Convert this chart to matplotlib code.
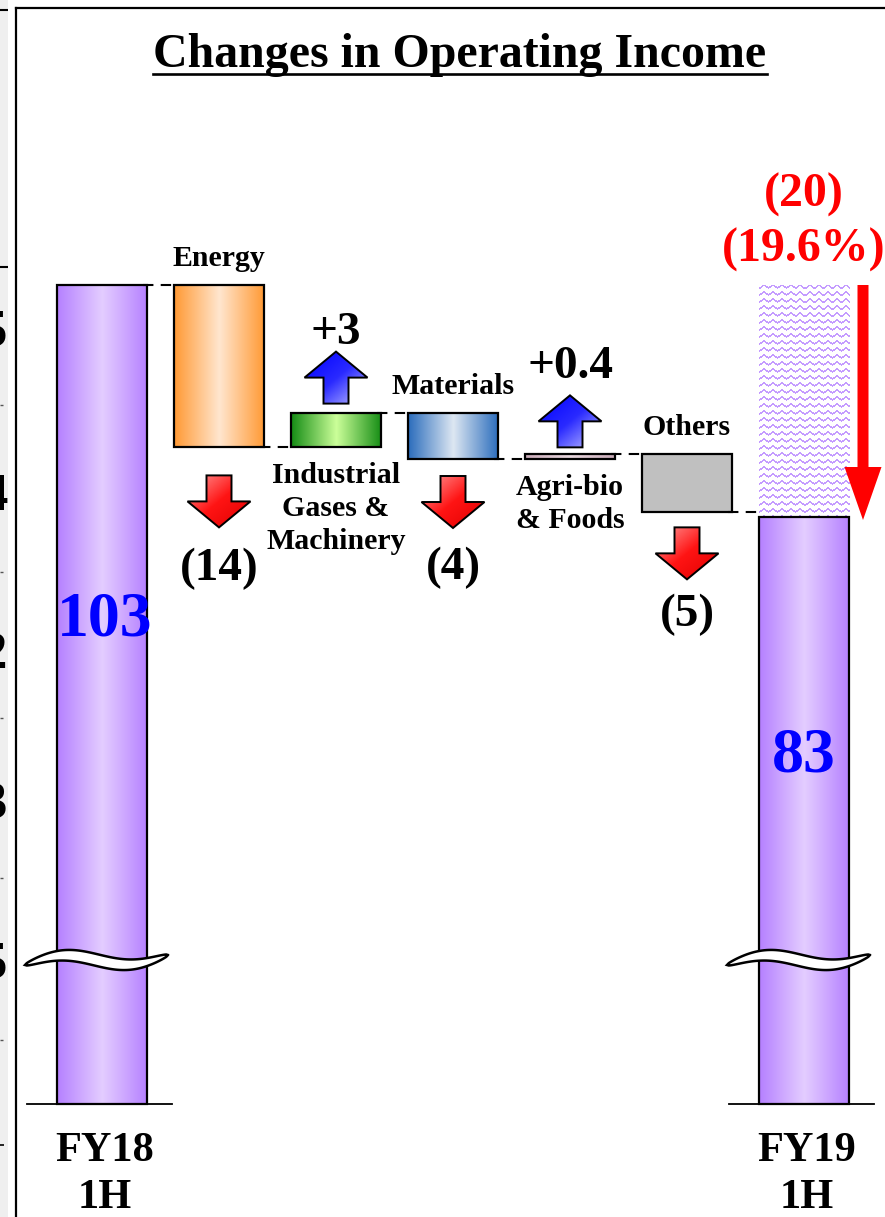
import numpy as np
import matplotlib
matplotlib.use("Agg")
import matplotlib.pyplot as plt
from matplotlib.patches import Polygon
from matplotlib.colors import LinearSegmentedColormap, to_rgb
from matplotlib.lines import Line2D

# ---------------- data ----------------
start_label = "FY18\n1H"
end_label = "FY19\n1H"
start_value = 103
end_value = 83
segments = ["Energy", "Industrial\nGases &\nMachinery", "Materials",
            "Agri-bio\n& Foods", "Others"]
segment_changes = [-14, 3, -4, 0.4, -5]
change_labels = ["(14)", "+3", "(4)", "+0.4", "(5)"]
total_change = -20
total_change_pct = -19.6
title = "Changes in Operating Income"

# ---------------- layout (pixels) ----------------
W_PX, H_PX = 885, 1217
X0_PX, STEP_PX = 102, 117          # centre of first column, column pitch
TOP_PX, UNIT_PX = 285, 11.6        # row of the starting total, pixels per unit
BASE_PX = 1104                      # drawn foot of the (broken) total columns
BREAK_PX = 960                      # row of the axis-break marks
BAR_W = 0.77
arrow_gap_px = [28, 9, 17, 7, 15]
value_gap_px = [20, 8, 19, 17, 14]

segment_colors = [
    ["#ff9933", "#ffe6cf", "#ff9933"],
    ["#148c14", "#ccff99", "#148c14"],
    ["#2a6cbc", "#dde7f2", "#2a6cbc"],
    ["#c9aab8", "#e8d8de", "#c9aab8"],
    None,
]
total_colors = ["#b580ff", "#e4cdff", "#b580ff"]

plt.rcParams['font.family'] = ['Liberation Serif', 'DejaVu Serif']
plt.rcParams['font.weight'] = 'bold'

fig = plt.figure(figsize=(W_PX / 100, H_PX / 100), dpi=100)
fig.patch.set_facecolor("white")
ax = fig.add_axes([0, 0, 1, 1])
y_top = start_value + TOP_PX / UNIT_PX
XLIM = (-X0_PX / STEP_PX, (W_PX - X0_PX) / STEP_PX)
YLIM = (y_top - H_PX / UNIT_PX, y_top)
ax.set_xlim(*XLIM)
ax.set_ylim(*YLIM)
ax.axis('off')


def dx(p):
    return p / STEP_PX


def dy(p):
    return p / UNIT_PX


def row(p):
    """pixel row measured from the top -> data y"""
    return y_top - p / UNIT_PX


def gradient_bar(x, bottom, top, colors, z=2):
    cmap = LinearSegmentedColormap.from_list("g", colors)
    grad = np.linspace(0, 1, 256)[None, :]
    ax.imshow(grad, cmap=cmap, extent=(x - BAR_W / 2, x + BAR_W / 2, bottom, top),
              aspect='auto', interpolation='bilinear', zorder=z)


def outline(x, bottom, top, face='none', z=3):
    ax.bar(x, top - bottom, bottom=bottom, width=BAR_W, color=face,
           edgecolor='black', linewidth=1.6, zorder=z)


def arrow_verts(xc, y_tail, up, length_px=52, head_px=26, shaft_px=25, headw_px=63):
    s = 1 if up else -1
    tip = y_tail + s * dy(length_px)
    neck = tip - s * dy(head_px)
    hw, sw = dx(headw_px) / 2, dx(shaft_px) / 2
    return np.array([[xc - sw, y_tail], [xc - sw, neck], [xc - hw, neck], [xc, tip],
                     [xc + hw, neck], [xc + sw, neck], [xc + sw, y_tail]])


def gradient_arrow(verts, colors, z=4):
    poly = Polygon(verts, closed=True, facecolor='none', edgecolor='black',
                   linewidth=1.4, zorder=z + 0.1)
    ax.add_patch(poly)
    n = 80
    uu, vv = np.meshgrid(np.linspace(0, 1, n), np.linspace(0, 1, n))
    t = (uu + vv) / 2
    cmap = LinearSegmentedColormap.from_list("a", colors)
    xs, ys = verts[:, 0], verts[:, 1]
    im = ax.imshow(t, cmap=cmap, extent=(xs.min(), xs.max(), ys.min(), ys.max()),
                   aspect='auto', interpolation='bilinear', zorder=z)
    im.set_clip_path(poly)


def wave_texture(w_px, h_px, color, period=9.0, spacing=7.0, amp=1.8):
    yy, xx = np.mgrid[0:h_px, 0:w_px].astype(float)
    tri = np.abs(((xx / period) % 1.0) * 2 - 1) * 2 * amp - amp
    d = (yy - tri) % spacing
    mask = d < 2.0
    img = np.zeros((h_px, w_px, 4))
    img[..., :3] = to_rgb(color)
    img[..., 3] = mask.astype(float)
    return img


def break_mark(xc):
    t = np.linspace(0, 1, 80)
    xs = xc + dx(-77 + 143 * t)
    c = BREAK_PX + 5 - 10 * t - 7 * np.sin(2 * np.pi * t)
    h = 6.0 * np.sin(np.pi * t) ** 0.5
    upper = np.c_[xs, row(c - h)]
    lower = np.c_[xs[::-1], row((c + h)[::-1])]
    ax.add_patch(Polygon(np.vstack([upper, lower]), closed=True, facecolor='white',
                         edgecolor='black', linewidth=1.8, zorder=6))


base_y = row(BASE_PX)
x_start = 0
x_end = len(segments) + 1
dash = dict(color='black', lw=1.5, ls=(0, (5, 3.5)), zorder=3.5)

# ---- starting total ----
gradient_bar(x_start, base_y, start_value, total_colors)
outline(x_start, base_y, start_value)

# ---- segment steps ----
prev = start_value
for i, (name, d, lab) in enumerate(zip(segments, segment_changes, change_labels)):
    x = i + 1
    lo, hi = min(prev, prev + d), max(prev, prev + d)
    if segment_colors[i] is None:
        outline(x, lo, hi, face='#c0c0c0')
    else:
        gradient_bar(x, lo, hi, segment_colors[i])
        outline(x, lo, hi)
    # connector from previous column
    ax.plot([x - 1 + BAR_W / 2 - dx(4), x - BAR_W / 2 + dx(4)], [prev, prev], **dash)
    if d > 0:
        tail = hi + dy(arrow_gap_px[i])
        v = arrow_verts(x, tail, True)
        gradient_arrow(v, ["#0000ff", "#2a2aff", "#c4c4ff"])
        ax.text(x, v[:, 1].max() + dy(value_gap_px[i]), lab, ha='center',
                va='baseline', fontsize=34)
        ax.text(x, lo - dy(15), name, ha='center', va='top', fontsize=21.5,
                linespacing=1.27)
    else:
        tail = lo - dy(arrow_gap_px[i])
        v = arrow_verts(x, tail, False)
        gradient_arrow(v, ["#ff9c9c", "#ff1414", "#e00000"])
        ax.text(x, v[:, 1].min() - dy(value_gap_px[i]), lab, ha='center',
                va='top', fontsize=34)
        ax.text(x, hi + dy(19), name, ha='center', va='baseline', fontsize=21.5)
    prev = prev + d

# connector into the ending total
ax.plot([x_end - 1 + BAR_W / 2 - dx(4), x_end - BAR_W / 2 + dx(4)], [prev, prev], **dash)

# ---- ending total ----
gradient_bar(x_end, base_y, end_value, total_colors)
outline(x_end, base_y, end_value)
tex = wave_texture(int(round(BAR_W * STEP_PX)), int(round((start_value - end_value) * UNIT_PX)),
                   "#c49cff")
ax.imshow(tex, extent=(x_end - BAR_W / 2, x_end + BAR_W / 2, end_value, start_value),
          aspect='auto', interpolation='nearest', zorder=2)

# big red change arrow
xa = x_end + dx(59)
ax.add_patch(Polygon(
    [[xa - dx(5.5), start_value], [xa - dx(5.5), end_value + dy(50)],
     [xa - dx(18.5), end_value + dy(50)], [xa, end_value - dy(3)],
     [xa + dx(18.5), end_value + dy(50)], [xa + dx(5.5), end_value + dy(50)],
     [xa + dx(5.5), start_value]],
    closed=True, facecolor='#ff0000', edgecolor='none', zorder=4))

ax.text(x_end, row(207), f"({abs(total_change)})", color='#ff0000', ha='center',
        va='baseline', fontsize=34.5)
ax.text(x_end, row(262), f"({abs(total_change_pct)}%)", color='#ff0000', ha='center',
        va='baseline', fontsize=34.5)

# totals values
ax.text(x_start + dx(3), row(635), f"{start_value}", color='#0000ff', ha='center',
        va='baseline', fontsize=46, zorder=7)
ax.text(x_end, row(772), f"{end_value}", color='#0000ff', ha='center',
        va='baseline', fontsize=46, zorder=7)

# axis breaks and feet
for xc in (x_start, x_end):
    break_mark(xc)
    ax.plot([xc - dx(75), xc + dx(70)], [base_y, base_y], color='black', lw=1.3,
            zorder=3)

# column captions (baseline of the last line)
for xc, lab in ((x_start, start_label), (x_end, end_label)):
    ax.text(xc + dx(3), row(1208), lab, ha='center', va='baseline', fontsize=30.5,
            linespacing=1.31)

# ---- title with underline ----
t = fig.text(460 / W_PX, 1 - 67 / H_PX, title, ha='center', va='baseline',
             fontsize=34.5)
fig.canvas.draw()
bb = t.get_window_extent()
fig.add_artist(Line2D([bb.x0 / W_PX, bb.x1 / W_PX], [1 - 73.5 / H_PX] * 2,
                      transform=fig.transFigure, color='black', lw=1.9))

# ---- panel frame ----
fig.add_artist(Line2D([16 / W_PX, 16 / W_PX], [0, 1 - 8 / H_PX],
                      transform=fig.transFigure, color='black', lw=1.6))
fig.add_artist(Line2D([16 / W_PX, 1], [1 - 8 / H_PX] * 2,
                      transform=fig.transFigure, color='black', lw=1.6))

# ---- neighbouring panel edge ----
side = fig.add_axes([0, 0, 8 / W_PX, 1])
side.set_facecolor('#efefef')
side.set_xlim(0, 8)
side.set_ylim(H_PX, 0)
for s in side.spines.values():
    s.set_visible(False)
side.set_xticks([])
side.set_yticks([])
side.hlines([10, 267], 0, 8, color='black', lw=1.5)
for yy, ch in ((333, "5"), (497, "4"), (655, "2"), (805, "3"), (965, "5")):
    side.text(7.5, yy, ch, ha='right', va='center', fontsize=38, clip_on=True)
side.hlines([405, 572, 718, 878, 1040], 0, 2.5, color='#555555', lw=1.0)
side.hlines([1145], 0, 4, color='black', lw=1.2)

ax.set_xlim(*XLIM)
ax.set_ylim(*YLIM)
fig.savefig("out.png", dpi=100)
